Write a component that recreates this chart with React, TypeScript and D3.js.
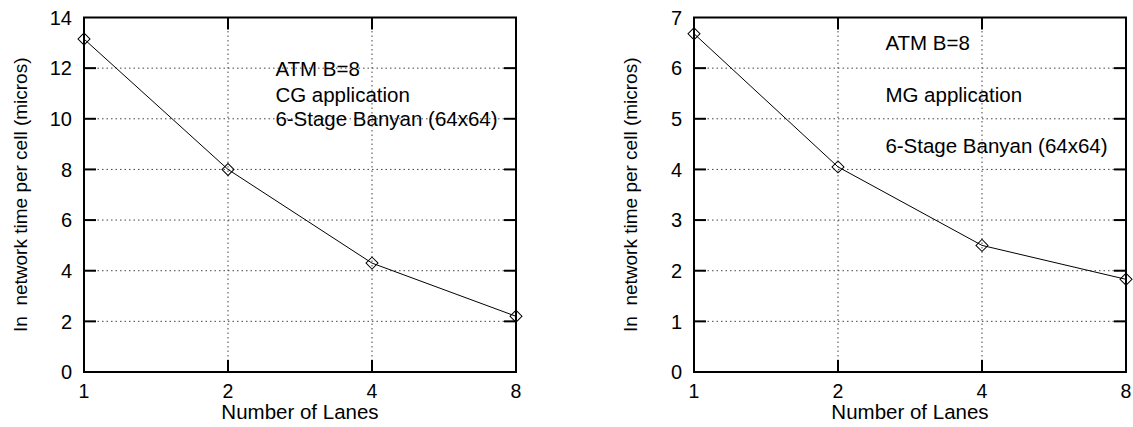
import React from 'react';
import * as d3 from 'd3';

const LANES = [1, 2, 4, 8];
const CG_TIME = [13.15, 8.0, 4.3, 2.2];
const MG_TIME = [6.68, 4.05, 2.5, 1.83];
const CG_TICKS = [0, 2, 4, 6, 8, 10, 12, 14];
const MG_TICKS = [0, 1, 2, 3, 4, 5, 6, 7];
const CG_NOTES = ['ATM B=8', 'CG application', '6-Stage Banyan (64x64)'];
const CG_NOTE_Y = [11.97, 10.95, 10.0];
const MG_NOTES = ['ATM B=8', 'MG application', '6-Stage Banyan (64x64)'];
const MG_NOTE_Y = [6.5, 5.48, 4.47];

const X_TITLE = 'Number of Lanes';
const Y_TITLE = 'In  network time per cell (micros)';

const FONT = '"Liberation Sans", Arial, Helvetica, sans-serif';

type PanelProps = {
  left: number;
  values: number[];
  ticks: number[];
  notes: string[];
  noteY: number[];
};

const Panel: React.FC<PanelProps> = ({ left, values, ticks, notes, noteY }) => {
  const top = 17.5;
  const bottom = 372;
  const width = 432;
  const right = left + width;

  const x = d3.scaleLog().base(2).domain([1, 8]).range([left, right]);
  const y = d3.scaleLinear().domain([0, d3.max(ticks) as number]).range([bottom, top]);

  const line = d3.line<number>()
    .x((_, i) => x(LANES[i]))
    .y(d => y(d));

  const diamond = d3.symbol().type(d3.symbolSquare).size(72)() as string;
  const tickLen = 12;
  const noteX = left + width * 0.443;

  return (
    <g>
      {/* grid */}
      {ticks.slice(1, -1).map(t => (
        <line key={'gy' + t} x1={left} x2={right} y1={y(t)} y2={y(t)}
          stroke="#444" strokeWidth={1} strokeDasharray="1.5 3" />
      ))}
      {LANES.slice(1, -1).map(l => (
        <line key={'gx' + l} x1={x(l)} x2={x(l)} y1={top} y2={bottom}
          stroke="#444" strokeWidth={1} strokeDasharray="1.5 3" />
      ))}

      {/* notes */}
      {notes.map((n, i) => (
        <text key={n} x={noteX} y={y(noteY[i])} dy="0.36em" fontSize={20.5}
          fontFamily={FONT} fill="#000">{n}</text>
      ))}

      {/* ticks, mirrored on all sides */}
      {ticks.slice(1, -1).map(t => (
        <g key={'ty' + t}>
          <line x1={left} x2={left + tickLen} y1={y(t)} y2={y(t)} stroke="#000" strokeWidth={2} />
          <line x1={right} x2={right - tickLen} y1={y(t)} y2={y(t)} stroke="#000" strokeWidth={2} />
        </g>
      ))}
      {LANES.slice(1, -1).map(l => (
        <g key={'tx' + l}>
          <line x1={x(l)} x2={x(l)} y1={bottom} y2={bottom - tickLen} stroke="#000" strokeWidth={2} />
          <line x1={x(l)} x2={x(l)} y1={top} y2={top + tickLen} stroke="#000" strokeWidth={2} />
        </g>
      ))}

      {/* frame */}
      <rect x={left} y={top} width={width} height={bottom - top} fill="none" stroke="#000" strokeWidth={2} />

      {/* tick labels */}
      {ticks.map(t => (
        <text key={'ly' + t} x={left - 12} y={y(t)} dy="0.36em" textAnchor="end"
          fontSize={20} fontFamily={FONT} fill="#000">{t}</text>
      ))}
      {LANES.map(l => (
        <text key={'lx' + l} x={x(l)} y={398} textAnchor="middle"
          fontSize={19.5} fontFamily={FONT} fill="#000">{l}</text>
      ))}

      {/* axis titles */}
      <text x={(left + right) / 2} y={419} textAnchor="middle" fontSize={20.5}
        fontFamily={FONT} fill="#000">{X_TITLE}</text>
      <g transform={`translate(${left - 64},${(top + bottom) / 2}) rotate(-90)`}>
        <text textAnchor="middle" dy="0.36em" fontSize={19} fontFamily={FONT} fill="#000"
          style={{ whiteSpace: 'pre' }}>{Y_TITLE}</text>
      </g>

      {/* series */}
      <path d={line(values) as string} fill="none" stroke="#000" strokeWidth={1} />
      {values.map((v, i) => (
        <path key={'m' + i} d={diamond}
          transform={`translate(${x(LANES[i])},${y(v)}) rotate(45)`}
          fill="none" stroke="#000" strokeWidth={1} />
      ))}
    </g>
  );
};

const App: React.FC = () => {
  return (
    <div style={{ position: 'absolute', left: 0, top: 0, width: 1133, height: 427, background: '#fff' }}>
      <svg width={1133} height={427} style={{ display: 'block' }}>
        <rect width={1133} height={427} fill="#fff" />
        <Panel left={84} values={CG_TIME} ticks={CG_TICKS} notes={CG_NOTES} noteY={CG_NOTE_Y} />
        <Panel left={694} values={MG_TIME} ticks={MG_TICKS} notes={MG_NOTES} noteY={MG_NOTE_Y} />
      </svg>
    </div>
  );
};

export default App;
